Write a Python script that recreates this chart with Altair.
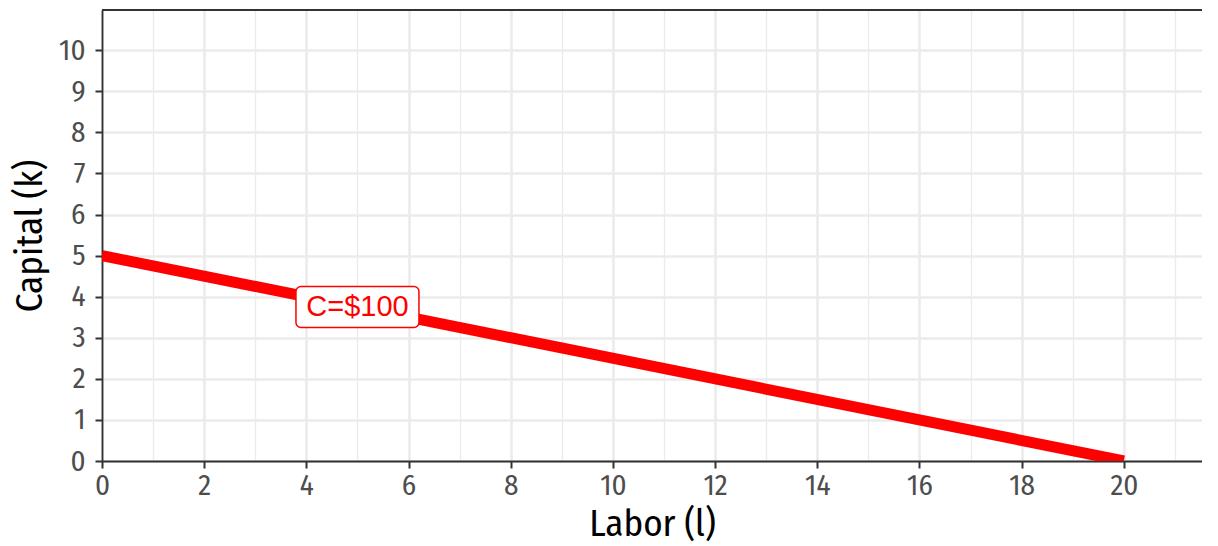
import altair as alt
import pandas as pd

# Budget line data
labor = [0, 20]
capital = [5, 0]

# Label
label_labor = [5]
label_capital = [3.75]
label_text = ["C=$100"]

x_ticks = list(range(0, 22))
y_ticks = [i * 0.5 for i in range(0, 22)]

line_df = pd.DataFrame({"l": labor, "k": capital})
lab_df = pd.DataFrame({"l": label_labor, "k": label_capital, "t": label_text})

FONT = "Fira Sans Condensed, Liberation Sans Narrow, Roboto, sans-serif"
W, H = 1100, 451

xscale = alt.Scale(domain=[0, 21.53], nice=False, zero=False)
yscale = alt.Scale(domain=[0, 10.98], nice=False, zero=False)

xaxis = alt.Axis(
    values=x_ticks,
    title="Labor (l)",
    labelExpr="datum.value % 2 === 0 ? datum.label : ''",
    labelOverlap=False,
    labelFlush=False,
    gridColor="#ebebeb",
    gridWidth={"condition": {"test": "datum.value % 2 === 0", "value": 2.6}, "value": 1.3},
    tickOpacity={"condition": {"test": "datum.value % 2 === 0", "value": 1}, "value": 0},
    tickColor="#333333",
    tickWidth=2,
    tickSize=7,
    domainColor="#333333",
    domainWidth=1.8,
    labelFont=FONT,
    labelFontSize=29,
    labelColor="#4d4d4d",
    labelPadding=3,
    titleFont=FONT,
    titleFontSize=37,
    titleFontWeight="normal",
    titleColor="#000000",
    titleBaseline="alphabetic",
    titleY=74,
)

yaxis = alt.Axis(
    values=y_ticks,
    title="Capital (k)",
    labelExpr="datum.value % 1 === 0 ? datum.label : ''",
    labelOverlap=False,
    labelFlush=False,
    gridColor="#ebebeb",
    gridWidth={"condition": {"test": "datum.value % 1 === 0", "value": 2.6}, "value": 1.3},
    tickOpacity={"condition": {"test": "datum.value % 1 === 0", "value": 1}, "value": 0},
    tickColor="#333333",
    tickWidth=2,
    tickSize=7,
    domainColor="#333333",
    domainWidth=1.8,
    labelFont=FONT,
    labelFontSize=29,
    labelColor="#4d4d4d",
    labelPadding=10,
    titleFont=FONT,
    titleFontSize=37,
    titleFontWeight="normal",
    titleColor="#000000",
    titlePadding=9,
)

line = alt.Chart(line_df).mark_line(color="#ff0000", strokeWidth=11, clip=True, strokeCap="butt").encode(
    x=alt.X("l:Q", scale=xscale, axis=xaxis),
    y=alt.Y("k:Q", scale=yscale, axis=yaxis),
)

box = alt.Chart(lab_df).mark_rect(
    width=123, height=41, fill="white", stroke="#ff0000", strokeWidth=1.5, cornerRadius=5
).encode(x="l:Q", y="k:Q")

txt = alt.Chart(lab_df).mark_text(
    color="#ff0000", font="Liberation Sans, Arial, sans-serif", fontSize=29, baseline="middle", align="center"
).encode(x="l:Q", y="k:Q", text="t:N")

top_border = alt.Chart(lab_df).mark_rule(color="#333333", strokeWidth=1.8).encode(
    x=alt.value(0), x2=alt.value(W), y=alt.value(0)
)

chart = alt.layer(line, box, txt, top_border).properties(
    width=W,
    height=H,
    autosize=alt.AutoSizeParams(type="none"),
    padding={"left": 94, "top": 2, "right": 0, "bottom": 85},
).configure_view(stroke=None).configure(background="white")

chart.save("out.html", embed_options={"renderer": "svg", "actions": False})
